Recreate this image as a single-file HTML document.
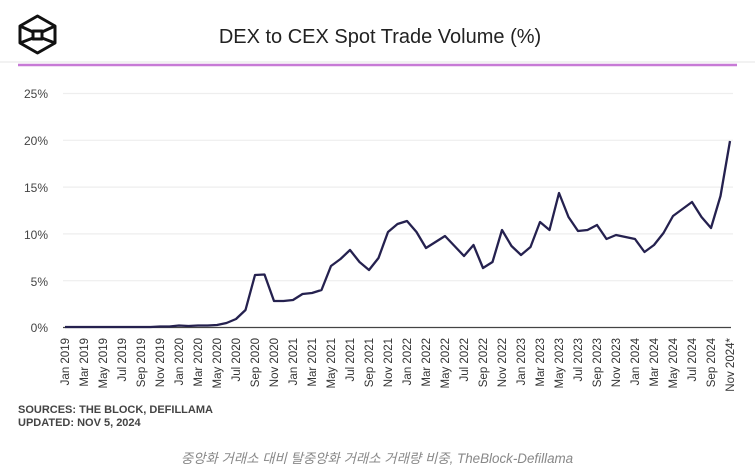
<!DOCTYPE html>
<html><head><meta charset="utf-8"><style>
html,body{margin:0;padding:0;background:#fff;}
body{width:755px;height:473px;overflow:hidden;position:relative;font-family:"Liberation Sans",sans-serif;}
</style></head><body>
<svg width="755" height="473" viewBox="0 0 755 473" xmlns="http://www.w3.org/2000/svg" style="position:absolute;left:0;top:0">
<g fill="none" stroke="#111" stroke-width="3" stroke-linejoin="round">
<polygon points="37.5,16 55,26 55,43 37.5,53 20,43 20,26"/>
<line x1="20" y1="26" x2="33" y2="32"/><line x1="55" y1="26" x2="42" y2="32"/>
<line x1="20" y1="43" x2="33" y2="38"/><line x1="55" y1="43" x2="42" y2="38"/>
<rect x="33" y="31" width="9" height="8"/>
</g>
<text x="380" y="43" text-anchor="middle" font-size="20" fill="#222" font-family="Liberation Sans, sans-serif">DEX to CEX Spot Trade Volume (%)</text>
<line x1="0" y1="62" x2="755" y2="62" stroke="#f2f2f2" stroke-width="2"/>
<line x1="18" y1="65" x2="737" y2="65" stroke="#c77ad6" stroke-width="2.5"/>
<g stroke="#eeeeee" stroke-width="1.2">
<line x1="63" y1="93.5" x2="733" y2="93.5"/>
<line x1="63" y1="140.3" x2="733" y2="140.3"/>
<line x1="63" y1="187.1" x2="733" y2="187.1"/>
<line x1="63" y1="233.9" x2="733" y2="233.9"/>
<line x1="63" y1="280.7" x2="733" y2="280.7"/>
</g>
<line x1="63" y1="327.5" x2="731" y2="327.5" stroke="#444" stroke-width="1.2"/>
<g font-size="12" fill="#444" text-anchor="end">
<text x="48" y="98">25%</text><text x="48" y="145">20%</text><text x="48" y="192">15%</text>
<text x="48" y="239">10%</text><text x="48" y="286">5%</text><text x="48" y="332">0%</text>
</g>
<g font-size="11.5" fill="#333" text-anchor="end" id="xl"></g>
<polyline id="ln" fill="none" stroke="#25214f" stroke-width="2.3" stroke-linejoin="round" points=""/>
<text x="18" y="413" font-size="11" font-weight="bold" fill="#444">SOURCES: THE BLOCK, DEFILLAMA</text>
<text x="18" y="426" font-size="11" font-weight="bold" fill="#444">UPDATED: NOV 5, 2024</text>
<text x="377" y="463" text-anchor="middle" font-size="13.4" font-style="italic" fill="#888" font-family="Liberation Sans, Noto Sans CJK KR, sans-serif">중앙화 거래소 대비 탈중앙화 거래소 거래량 비중, TheBlock-Defillama</text>
</svg>
<script>
var ys=[327,327,327,327,327,327,327,327,327,327,326.5,326.5,325.5,326,325.5,325.5,325,323,319,310,275,274.5,301,301,300,294,293,290,266,259,250,262,270,258,232,224,221,232,248,242,236,246,256,245,268,262,230,246,255,247,222,230,193,217,231,230,225,239,235,237,239,252,245,233,216,209,202,217,228,196,141];
var pts=ys.map(function(y,i){return (65+i*9.5).toFixed(1)+","+y}).join(" ");
document.getElementById("ln").setAttribute("points",pts);
var m=["Jan","Mar","May","Jul","Sep","Nov"],g=document.getElementById("xl"),ns="http://www.w3.org/2000/svg";
for(var i=0;i<=70;i+=2){var x=65+i*9.5+4,yr=2019+Math.floor(i/12),t=document.createElementNS(ns,"text");
t.setAttribute("transform","translate("+x+",338) rotate(-90)");t.textContent=m[(i%12)/2]+" "+yr+(i==70?"*":"");g.appendChild(t);}
</script>
</body></html>
